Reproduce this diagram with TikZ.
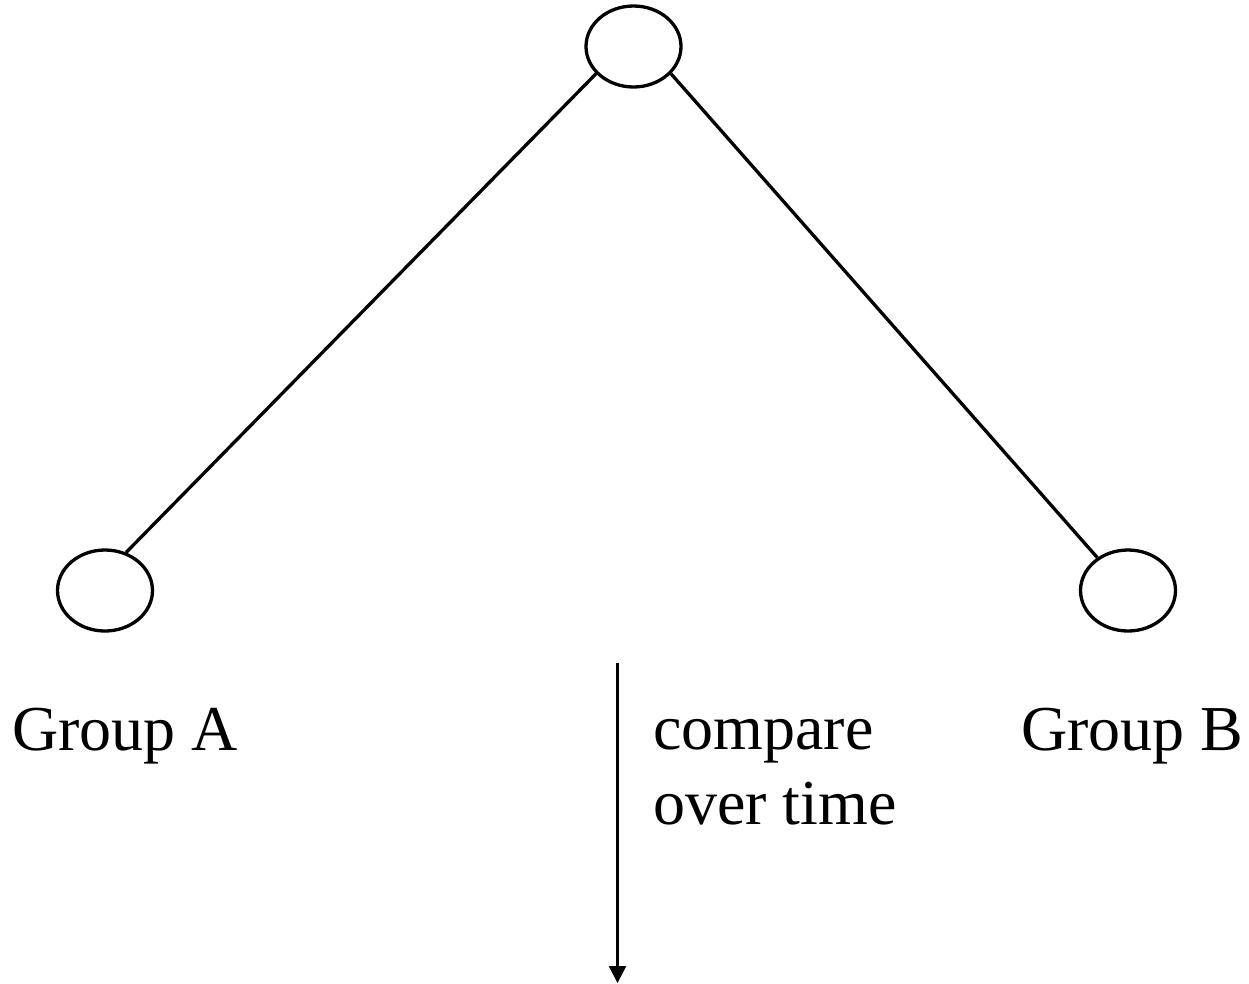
\documentclass[tikz,border=0pt]{standalone}
\usepackage{fontspec}
\setmainfont{Liberation Serif}
\usetikzlibrary{shapes.geometric,arrows.meta}
\begin{document}
\begin{tikzpicture}[x=1pt,y=-1pt,
  leaf/.style={draw, ellipse, line width=3.3pt, minimum width=95pt, minimum height=81pt, inner sep=0pt},
  edge/.style={line width=3.3pt},
  label/.style={anchor=base west, inner sep=0pt, font=\fontsize{64}{75}\selectfont, align=left},
  timeline/.style={line width=2.4pt, -{Triangle[width=17pt,length=17pt]}}]
  % page frame
  \path[use as bounding box] (0,0) rectangle (1249,983);

  % tree nodes
  \node[leaf] (root) at (633.5,46.5) {};
  \node[leaf] (ga) at (105,590.5) {};
  \node[leaf] (gb) at (1128,590.5) {};

  % branches
  \draw[edge] (root.216.5) -- (ga.61);
  \draw[edge] (root.324) -- (gb.133);

  % labels
  \node[label] (la) at (12,750) {Group A};
  \node[label] (lb) at (1021,750) {Group B};
  \node[label] (lc) at (653,824) {compare\\over time};

  % time axis
  \coordinate (ts) at (617.5,663);
  \coordinate (te) at (617.5,983);
  \draw[timeline] (ts) -- (te);
\end{tikzpicture}
\end{document}
